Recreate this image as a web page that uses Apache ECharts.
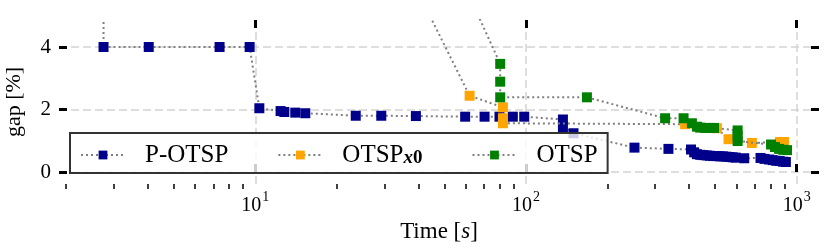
<!DOCTYPE html>
<html><head><meta charset="utf-8">
<script src="https://cdn.jsdelivr.net/npm/echarts@6/dist/echarts.min.js"></script>
<style>html,body{margin:0;padding:0;background:#fff}#c{width:830px;height:249px}</style>
</head><body><div id="c"></div>
<script>
// ---- data ----
const seriesNames = ['P-OTSP', 'OTSP_x0', 'OTSP'];

const potspTime = [2.75, 2.75, 4.04, 7.38, 9.53, 10.35, 12.4, 12.8, 14.05, 15.3, 23.5, 29.2, 39.2, 59.6, 70.3, 79.8, 89.4, 98.5,
  136.9, 136.9, 149.8, 251.6, 335.9, 407, 418, 428, 440, 452, 465, 478, 492, 506, 520, 535, 550, 565, 580, 595, 640,
  735, 760, 790, 815, 840, 865, 890, 912];
const potspGap = [8, 4.0, 4.0, 4.0, 4.0, 2.04, 1.95, 1.92, 1.90, 1.88, 1.80, 1.80, 1.79, 1.77, 1.77, 1.77, 1.77, 1.77,
  1.68, 1.44, 1.24, 0.78, 0.74, 0.72, 0.63, 0.57, 0.55, 0.54, 0.53, 0.52, 0.51, 0.51, 0.50, 0.50, 0.49, 0.48, 0.47, 0.46, 0.44,
  0.45, 0.42, 0.40, 0.38, 0.36, 0.35, 0.33, 0.32];

const otspX0Time = [22.8, 61.9, 82.2, 82.2, 82.2, 387, 507, 560, 683, 868, 898];
const otspX0Gap = [10, 2.44, 2.07, 1.72, 1.56, 1.53, 1.40, 1.05, 0.93, 0.96, 0.96];

const otspTime = [36.4, 80.3, 80.3, 80.3, 167.9, 326.6, 382, 410, 428, 440, 459, 479, 495, 605, 605, 605, 804, 831, 861, 891, 921];
const otspGap = [10, 3.46, 2.89, 2.39, 2.39, 1.72, 1.72, 1.56, 1.45, 1.42, 1.41, 1.41, 1.41, 1.33, 1.16, 0.99, 0.88, 0.80, 0.74, 0.71, 0.70];

const xMajorTicks = [10, 100, 1000];
const xMinorTicks = [2, 3, 4, 5, 6, 7, 8, 9, 20, 30, 40, 50, 60, 70, 80, 90, 200, 300, 400, 500, 600, 700, 800, 900];
const yTicks = [0, 2, 4];

// ---- layout / style ----
const X_MIN = 1, X_MAX = 1000;
const Y_MIN = -0.384, Y_MAX = 4.864;
const FONT = 'Liberation Serif';
const colors = ['#00008B', '#FFA500', '#008000'];
const gridLine = { color: '#d3d3d3', width: 1.5, type: [8, 4] };
const connLine = { color: '#7f7f7f', width: 2, type: [2, 3] };
const DECADE = 270.7, X10 = 255.3;

function zip(a, b) { return a.map((v, i) => [v, b[i]]); }
const seriesData = [zip(potspTime, potspGap), zip(otspX0Time, otspX0Gap), zip(otspTime, otspGap)];

const chart = echarts.init(document.getElementById('c'), null, { renderer: 'canvas' });
chart.setOption({
  animation: false,
  backgroundColor: '#fff',
  grid: [
    { left: X10 - DECADE, right: 830 - (X10 + 2 * DECADE), top: 20, bottom: 65, outerBoundsMode: 'none', containLabel: false },
    { left: 59, right: 11, top: 20, bottom: 65, outerBoundsMode: 'none', containLabel: false }
  ],
  xAxis: [
    {
      gridIndex: 0, type: 'log', logBase: 10, min: X_MIN, max: X_MAX, position: 'bottom',
      axisLine: { show: false },
      axisTick: { show: true, inside: true, length: 8, lineStyle: { width: 3, color: '#000' }, customValues: xMajorTicks },
      axisLabel: {
        customValues: xMajorTicks, margin: 6, color: '#000', fontFamily: FONT,
        formatter: v => '{b|10}{s|' + Math.round(Math.log10(v)) + '}',
        rich: {
          b: { fontFamily: FONT, fontSize: 20, color: '#000', lineHeight: 26, verticalAlign: 'bottom' },
          s: { fontFamily: FONT, fontSize: 14, color: '#000', lineHeight: 26, verticalAlign: 'top', padding: [0, 0, 0, 1] }
        }
      },
      splitLine: { show: true, lineStyle: gridLine }
    },
    {
      gridIndex: 0, type: 'log', logBase: 10, min: X_MIN, max: X_MAX, position: 'bottom',
      axisLine: { show: false },
      axisTick: { show: true, inside: false, length: 5, lineStyle: { width: 1.5, color: '#000' }, customValues: xMinorTicks },
      axisLabel: { show: false },
      splitLine: { show: false }
    },
    {
      gridIndex: 0, type: 'log', logBase: 10, min: X_MIN, max: X_MAX, position: 'top',
      axisLine: { show: false },
      axisTick: { show: true, inside: true, length: 8, lineStyle: { width: 3, color: '#000' }, customValues: xMajorTicks },
      axisLabel: { show: false },
      splitLine: { show: false }
    },
    {
      gridIndex: 1, type: 'value', min: 0, max: 1, position: 'bottom',
      axisLine: { show: false }, axisTick: { show: false }, axisLabel: { show: false }, splitLine: { show: false },
      name: 'Time [{i|s}]', nameLocation: 'middle', nameGap: 36,
      nameTextStyle: { fontFamily: FONT, fontSize: 23, color: '#000', verticalAlign: 'top',
        rich: { i: { fontFamily: FONT, fontSize: 23, fontStyle: 'italic', color: '#000' } } }
    }
  ],
  yAxis: [
    {
      gridIndex: 1, type: 'value', min: Y_MIN, max: Y_MAX, position: 'left',
      axisLine: { show: false },
      axisTick: { show: true, inside: true, length: 8, lineStyle: { width: 3, color: '#000' }, customValues: yTicks },
      axisLabel: { customValues: yTicks, margin: 8, fontFamily: FONT, fontSize: 21, color: '#000' },
      splitLine: { show: true, lineStyle: gridLine },
      name: 'gap [%]', nameLocation: 'middle', nameGap: 34,
      nameTextStyle: { fontFamily: FONT, fontSize: 22, color: '#000' }
    },
    {
      gridIndex: 1, type: 'value', min: Y_MIN, max: Y_MAX, position: 'right',
      axisLine: { show: false },
      axisTick: { show: true, inside: true, length: 8, lineStyle: { width: 3, color: '#000' }, customValues: yTicks },
      axisLabel: { show: false },
      splitLine: { show: false }
    },
    {
      gridIndex: 0, type: 'value', min: Y_MIN, max: Y_MAX, show: false
    }
  ],
  legend: {
    data: seriesNames, left: 70, top: 133, orient: 'horizontal',
    itemWidth: 44, itemHeight: 11, itemGap: 49,
    padding: [5, 10, 5, 10],
    borderColor: '#333', borderWidth: 2, borderRadius: 0,
    backgroundColor: 'rgba(255,255,255,0.8)',
    selectedMode: false,
    formatter: n => n === 'OTSP_x0' ? 'OTSP{x|x}{z|0}' : n,
    textStyle: {
      fontFamily: FONT, fontSize: 25, lineHeight: 26, color: '#000', padding: [0, 0, 0, 15],
      rich: {
        x: { fontFamily: FONT, fontSize: 19, lineHeight: 19, fontWeight: 'bold', fontStyle: 'italic', color: '#000', verticalAlign: 'bottom', padding: [11, 0, 0, 0] },
        z: { fontFamily: FONT, fontSize: 19, lineHeight: 19, fontWeight: 'bold', color: '#000', verticalAlign: 'bottom', padding: [11, 0, 0, 0] }
      }
    }
  },
  series: seriesNames.map((n, i) => ({
    name: n, type: 'line', xAxisIndex: 0, yAxisIndex: 2,
    data: seriesData[i],
    color: colors[i],
    symbol: 'rect', symbolSize: 10,
    itemStyle: { color: colors[i] },
    lineStyle: connLine,
    clip: true,
    emphasis: { disabled: true },
    z: 2 + i
  }))
});
</script>
</body></html>
